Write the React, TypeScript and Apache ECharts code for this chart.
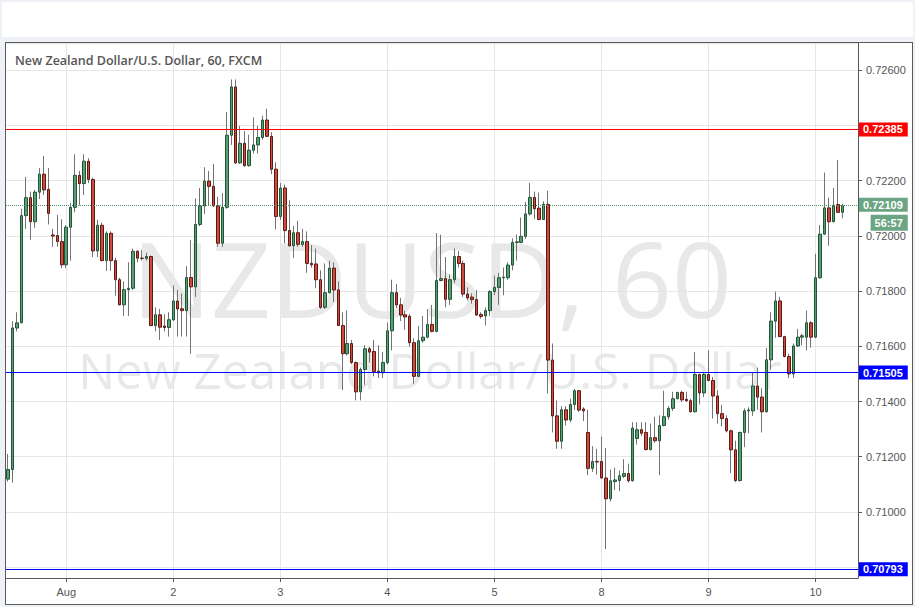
import React, { useEffect, useRef } from "react";
import * as echarts from "echarts";

// Hourly NZD/USD candles (FXCM, 60 min)
const opens = [
  0.71119, 0.71154, 0.71666, 0.71685, 0.72073, 0.72138, 0.72051, 0.72158, 0.72223, 0.72168,
  0.72003, 0.72001, 0.71979, 0.71895, 0.72031, 0.72103, 0.72219, 0.72189, 0.72270, 0.72204,
  0.71945, 0.72038, 0.71910, 0.72009, 0.71910, 0.71841, 0.71750, 0.71805, 0.71810, 0.71944,
  0.71919, 0.71918, 0.71925, 0.71675, 0.71714, 0.71673, 0.71668, 0.71696, 0.71764, 0.71736,
  0.71729, 0.71849, 0.71815, 0.72041, 0.72108, 0.72198, 0.72179, 0.72108, 0.71973, 0.72103,
  0.72364, 0.72539, 0.72264, 0.72335, 0.72254, 0.72310, 0.72329, 0.72356, 0.72419, 0.72360,
  0.72241, 0.72070, 0.72173, 0.72019, 0.71964, 0.72011, 0.71969, 0.71979, 0.71900, 0.71898,
  0.71841, 0.71741, 0.71794, 0.71883, 0.71804, 0.71675, 0.71573, 0.71610, 0.71541, 0.71435,
  0.71516, 0.71591, 0.71581, 0.71510, 0.71504, 0.71541, 0.71656, 0.71794, 0.71750, 0.71714,
  0.71709, 0.71613, 0.71491, 0.71620, 0.71633, 0.71679, 0.71654, 0.71838, 0.71845, 0.71770,
  0.71841, 0.71925, 0.71900, 0.71789, 0.71778, 0.71769, 0.71715, 0.71710, 0.71729, 0.71798,
  0.71813, 0.71848, 0.71848, 0.71894, 0.71976, 0.71976, 0.71998, 0.72079, 0.72139, 0.72100,
  0.72059, 0.72114, 0.71550, 0.71348, 0.71256, 0.71370, 0.71333, 0.71389, 0.71439, 0.71373,
  0.71288, 0.71158, 0.71183, 0.71183, 0.71123, 0.71048, 0.71110, 0.71114, 0.71129, 0.71139,
  0.71113, 0.71266, 0.71298, 0.71288, 0.71226, 0.71269, 0.71258, 0.71313, 0.71345, 0.71375,
  0.71410, 0.71433, 0.71408, 0.71403, 0.71363, 0.71498, 0.71431, 0.71498, 0.71476, 0.71420,
  0.71356, 0.71338, 0.71294, 0.71225, 0.71114, 0.71288, 0.71366, 0.71366, 0.71456, 0.71416,
  0.71363, 0.71551, 0.71691, 0.71764, 0.71635, 0.71563, 0.71500, 0.71601, 0.71633, 0.71633,
  0.71685, 0.71633, 0.71848, 0.72006, 0.72101, 0.72051, 0.72113, 0.72085,
];
const closes = [
  0.71154, 0.71666, 0.71685, 0.72073, 0.72138, 0.72051, 0.72158, 0.72223, 0.72166, 0.72081,
  0.71999, 0.71979, 0.71895, 0.72031, 0.72103, 0.72219, 0.72189, 0.72270, 0.72204, 0.71945,
  0.72038, 0.71910, 0.72009, 0.71910, 0.71841, 0.71750, 0.71805, 0.71810, 0.71944, 0.71919,
  0.71918, 0.71925, 0.71675, 0.71714, 0.71669, 0.71668, 0.71696, 0.71764, 0.71735, 0.71729,
  0.71849, 0.71815, 0.72041, 0.72108, 0.72198, 0.72179, 0.72108, 0.71973, 0.72103, 0.72364,
  0.72539, 0.72264, 0.72335, 0.72254, 0.72310, 0.72329, 0.72356, 0.72419, 0.72360, 0.72241,
  0.72070, 0.72173, 0.72019, 0.71964, 0.72011, 0.71969, 0.71979, 0.71900, 0.71895, 0.71841,
  0.71741, 0.71794, 0.71883, 0.71804, 0.71675, 0.71573, 0.71610, 0.71541, 0.71435, 0.71516,
  0.71591, 0.71579, 0.71508, 0.71504, 0.71541, 0.71656, 0.71794, 0.71750, 0.71713, 0.71706,
  0.71613, 0.71491, 0.71620, 0.71633, 0.71679, 0.71654, 0.71838, 0.71845, 0.71770, 0.71841,
  0.71925, 0.71900, 0.71789, 0.71775, 0.71769, 0.71713, 0.71708, 0.71729, 0.71798, 0.71813,
  0.71848, 0.71850, 0.71894, 0.71976, 0.71978, 0.71998, 0.72079, 0.72139, 0.72098, 0.72059,
  0.72114, 0.71550, 0.71348, 0.71256, 0.71370, 0.71333, 0.71389, 0.71439, 0.71369, 0.71366,
  0.71158, 0.71183, 0.71181, 0.71123, 0.71048, 0.71113, 0.71116, 0.71131, 0.71139, 0.71113,
  0.71304, 0.71298, 0.71285, 0.71226, 0.71269, 0.71258, 0.71313, 0.71345, 0.71375, 0.71410,
  0.71433, 0.71406, 0.71403, 0.71363, 0.71498, 0.71431, 0.71498, 0.71476, 0.71420, 0.71356,
  0.71338, 0.71294, 0.71225, 0.71114, 0.71288, 0.71366, 0.71369, 0.71456, 0.71416, 0.71363,
  0.71551, 0.71691, 0.71764, 0.71635, 0.71563, 0.71500, 0.71601, 0.71633, 0.71638, 0.71685,
  0.71633, 0.71848, 0.72006, 0.72101, 0.72051, 0.72110, 0.72085, 0.72109,
];
const lows = [
  0.71110, 0.71106, 0.71654, 0.71683, 0.72025, 0.71985, 0.72029, 0.72133, 0.72148, 0.72041,
  0.71960, 0.71960, 0.71883, 0.71883, 0.71910, 0.72085, 0.72110, 0.72148, 0.72191, 0.71923,
  0.71923, 0.71908, 0.71873, 0.71873, 0.71783, 0.71748, 0.71710, 0.71710, 0.71804, 0.71904,
  0.71910, 0.71910, 0.71673, 0.71654, 0.71623, 0.71654, 0.71635, 0.71691, 0.71635, 0.71635,
  0.71635, 0.71573, 0.71779, 0.72035, 0.72079, 0.72108, 0.72104, 0.71960, 0.71960, 0.72098,
  0.72329, 0.72260, 0.72260, 0.72250, 0.72250, 0.72298, 0.72298, 0.72348, 0.72358, 0.72223,
  0.72023, 0.72058, 0.71973, 0.71960, 0.71920, 0.71960, 0.71960, 0.71866, 0.71885, 0.71810,
  0.71735, 0.71735, 0.71791, 0.71760, 0.71673, 0.71441, 0.71566, 0.71535, 0.71404, 0.71404,
  0.71460, 0.71541, 0.71491, 0.71485, 0.71485, 0.71535, 0.71585, 0.71738, 0.71691, 0.71660,
  0.71598, 0.71464, 0.71488, 0.71613, 0.71629, 0.71650, 0.71650, 0.71835, 0.71741, 0.71750,
  0.71829, 0.71885, 0.71779, 0.71766, 0.71754, 0.71710, 0.71700, 0.71675, 0.71710, 0.71785,
  0.71750, 0.71785, 0.71841, 0.71875, 0.71910, 0.71973, 0.71988, 0.72073, 0.72060, 0.72056,
  0.72058, 0.71429, 0.71288, 0.71229, 0.71229, 0.71313, 0.71325, 0.71369, 0.71363, 0.71329,
  0.71133, 0.71145, 0.71135, 0.71120, 0.70866, 0.71038, 0.71079, 0.71075, 0.71123, 0.71106,
  0.71110, 0.71244, 0.71275, 0.71223, 0.71223, 0.71250, 0.71133, 0.71310, 0.71335, 0.71366,
  0.71408, 0.71398, 0.71398, 0.71360, 0.71360, 0.71389, 0.71416, 0.71473, 0.71338, 0.71320,
  0.71310, 0.71288, 0.71141, 0.71108, 0.71110, 0.71235, 0.71285, 0.71348, 0.71370, 0.71288,
  0.71360, 0.71516, 0.71631, 0.71633, 0.71560, 0.71485, 0.71485, 0.71598, 0.71604, 0.71585,
  0.71595, 0.71629, 0.71845, 0.72004, 0.71964, 0.72049, 0.72083, 0.72063,
];
const highs = [
  0.71210, 0.71691, 0.71723, 0.72098, 0.72213, 0.72160, 0.72166, 0.72245, 0.72289, 0.72245,
  0.72025, 0.72075, 0.72060, 0.72039, 0.72119, 0.72295, 0.72235, 0.72295, 0.72281, 0.72210,
  0.72058, 0.72048, 0.72016, 0.72016, 0.71920, 0.71848, 0.71835, 0.71904, 0.71954, 0.71948,
  0.71948, 0.71939, 0.71929, 0.71741, 0.71735, 0.71716, 0.71723, 0.71820, 0.71804, 0.71791,
  0.71890, 0.71985, 0.72135, 0.72173, 0.72248, 0.72235, 0.72260, 0.72141, 0.72154, 0.72448,
  0.72566, 0.72566, 0.72398, 0.72379, 0.72366, 0.72429, 0.72398, 0.72435, 0.72460, 0.72375,
  0.72266, 0.72191, 0.72185, 0.72129, 0.72035, 0.72054, 0.72025, 0.72016, 0.71966, 0.71954,
  0.71875, 0.71900, 0.71910, 0.71904, 0.71835, 0.71723, 0.71729, 0.71623, 0.71545, 0.71523,
  0.71604, 0.71598, 0.71623, 0.71604, 0.71579, 0.71685, 0.71841, 0.71825, 0.71775, 0.71729,
  0.71716, 0.71629, 0.71673, 0.71710, 0.71735, 0.71750, 0.72010, 0.72004, 0.71923, 0.71860,
  0.71954, 0.71945, 0.71910, 0.71813, 0.71791, 0.71804, 0.71723, 0.71741, 0.71804, 0.71856,
  0.71866, 0.71885, 0.71904, 0.71991, 0.72004, 0.72066, 0.72123, 0.72191, 0.72160, 0.72156,
  0.72125, 0.72163, 0.71610, 0.71404, 0.71383, 0.71383, 0.71410, 0.71445, 0.71441, 0.71379,
  0.71370, 0.71238, 0.71229, 0.71273, 0.71231, 0.71154, 0.71160, 0.71150, 0.71191, 0.71175,
  0.71325, 0.71325, 0.71325, 0.71325, 0.71320, 0.71345, 0.71350, 0.71439, 0.71383, 0.71435,
  0.71435, 0.71439, 0.71435, 0.71410, 0.71579, 0.71500, 0.71504, 0.71585, 0.71489, 0.71441,
  0.71388, 0.71350, 0.71298, 0.71258, 0.71291, 0.71375, 0.71379, 0.71504, 0.71523, 0.71448,
  0.71594, 0.71723, 0.71798, 0.71779, 0.71638, 0.71573, 0.71610, 0.71663, 0.71645, 0.71729,
  0.71691, 0.71935, 0.72039, 0.72229, 0.72138, 0.72173, 0.72275, 0.72116,
];

// Empty hourly slots kept on the right of the last candle
const rightPadSlots = 3;
// Day ticks on the time axis (index of the first hour of each day)
const dayTickIndex = [13, 37, 61, 85, 109, 133, 157, 181];
const dayTickLabels = ["Aug", "2", "3", "4", "5", "8", "9", "10"];

// Horizontal levels
const resistanceLevel = 0.72385;
const supportLevel = 0.71505;
const lowerLevel = 0.70793;
const lastPrice = 0.72109;
const countdown = "56:57";

const yMin = 0.70761;
const yMax = 0.72698;
const hiddenTicks = [0.724, 0.708];

const titleText = "New Zealand Dollar/U.S. Dollar, 60, FXCM";
const watermarkSymbol = "NZDUSD, 60";
const watermarkName = "New Zealand Dollar/U.S. Dollar";

const UP = "#5a9f74";
const DOWN = "#cf4a3a";
const UP_BORDER = "#225437";
const DOWN_BORDER = "#5b1a13";
const WICK = "#737375";
const LAST_GREEN = "#6ba583";

export default function App() {
  const ref = useRef<HTMLDivElement>(null);

  useEffect(() => {
    const chart = echarts.init(ref.current!, null, { renderer: "svg" });
    const n = opens.length;
    const categories = Array.from({ length: n + rightPadSlots }, (_, i) => String(i));
    const full = opens.map((o, i) => [o, closes[i], lows[i], highs[i]]);
    const bodies = opens.map((o, i) => [
      o,
      closes[i],
      Math.min(o, closes[i]),
      Math.max(o, closes[i]),
    ]);
    const isDay = (idx: number) => dayTickIndex.indexOf(idx) >= 0;
    const axisFont = "'Liberation Sans', Arial, sans-serif";

    const boxLabel = (bg: string) => ({
      show: true,
      position: "end",
      distance: 1,
      color: "#ffffff",
      fontWeight: "bold",
      fontSize: 11,
      fontFamily: axisFont,
      backgroundColor: bg,
      padding: [2, 5, 1, 4],
      formatter: (p: any) => Number(p.value).toFixed(5),
    });

    chart.setOption({
      animation: false,
      grid: { left: 6, right: 57, top: 43, bottom: 29, containLabel: false },
      graphic: [
        {
          type: "text",
          z: -1,
          silent: true,
          style: {
            x: 432,
            y: 277,
            text: watermarkSymbol,
            align: "center",
            verticalAlign: "middle",
            fontSize: 105,
            lineHeight: 78,
            fontFamily: "'Open Sans', sans-serif",
            fill: "#e8e8e8",
          },
        },
        {
          type: "text",
          z: -1,
          silent: true,
          style: {
            x: 430,
            y: 370,
            text: watermarkName,
            align: "center",
            verticalAlign: "middle",
            fontSize: 49,
            lineHeight: 40,
            fontFamily: "'Open Sans', sans-serif",
            fill: "#e8e8e8",
          },
        },
        {
          type: "text",
          z: 10,
          silent: true,
          style: {
            x: 15,
            y: 60,
            text: titleText,
            align: "left",
            verticalAlign: "middle",
            fontSize: 12.5,
            fontWeight: 600,
            fontFamily: "'Open Sans', sans-serif",
            fill: "#555555",
          },
        },
      ],
      xAxis: {
        type: "category",
        data: categories,
        boundaryGap: true,
        axisLine: { lineStyle: { color: "#555555", width: 1 } },
        axisTick: {
          show: true,
          interval: (idx: number) => isDay(idx),
          alignWithLabel: true,
          length: 4,
          lineStyle: { color: "#555555" },
        },
        axisLabel: {
          interval: (idx: number) => isDay(idx),
          formatter: (_v: string, idx: number) => {
            const k = dayTickIndex.indexOf(idx);
            return k >= 0 ? dayTickLabels[k] : "";
          },
          color: "#555555",
          fontSize: 11,
          fontFamily: axisFont,
          margin: 8,
        },
        splitLine: {
          show: true,
          interval: (idx: number) => isDay(idx),
          alignWithLabel: true,
          lineStyle: { color: "#e6e6e6", width: 1 },
        },
      },
      yAxis: {
        type: "value",
        position: "right",
        scale: true,
        min: yMin,
        max: yMax,
        splitNumber: 10,
        minInterval: 0.002,
        maxInterval: 0.002,
        axisLine: { show: true, lineStyle: { color: "#555555", width: 1 } },
        axisTick: { show: true, length: 4, lineStyle: { color: "#555555" } },
        axisLabel: {
          showMinLabel: false,
          showMaxLabel: false,
          color: "#555555",
          fontSize: 11,
          fontFamily: axisFont,
          margin: 8,
          formatter: (v: number) =>
            hiddenTicks.some((h) => Math.abs(h - v) < 1e-7) ? "" : v.toFixed(5),
        },
        splitLine: { show: true, lineStyle: { color: "#e6e6e6", width: 1 } },
      },
      series: [
        {
          name: "wicks",
          type: "candlestick",
          data: full,
          barWidth: 1,
          z: 3,
          itemStyle: {
            color: WICK,
            color0: WICK,
            borderColor: WICK,
            borderColor0: WICK,
            borderWidth: 1,
          },
        },
        {
          name: "bodies",
          type: "candlestick",
          data: bodies,
          barWidth: 3,
          z: 4,
          clip: false,
          itemStyle: {
            color: UP,
            color0: DOWN,
            borderColor: UP_BORDER,
            borderColor0: DOWN_BORDER,
            borderWidth: 1,
          },
          markLine: {
            symbol: "none",
            silent: true,
            animation: false,
            precision: 5,
            data: [
              {
                yAxis: resistanceLevel,
                lineStyle: { color: "#ff0000", type: "solid", width: 1 },
                label: boxLabel("#ff0000"),
              },
              {
                yAxis: supportLevel,
                lineStyle: { color: "#0000ff", type: "solid", width: 1 },
                label: boxLabel("#0000ff"),
              },
              {
                yAxis: lowerLevel,
                lineStyle: { color: "#0000ff", type: "solid", width: 1 },
                label: boxLabel("#0000ff"),
              },
              {
                yAxis: lastPrice,
                lineStyle: { color: "#4e8a64", type: "dotted", width: 1 },
                label: {
                  show: true,
                  position: "end",
                  distance: 1,
                  backgroundColor: "transparent",
                  padding: 0,
                  formatter: (p: any) =>
                    `{e|}\n{a|${Number(p.value).toFixed(5)}}\n{b|${countdown}}`,
                  rich: {
                    e: { height: 17, lineHeight: 17 },
                    a: {
                      color: "#ffffff",
                      fontWeight: "bold",
                      fontSize: 11,
                      fontFamily: axisFont,
                      backgroundColor: LAST_GREEN,
                      padding: [2, 5, 1, 4],
                      lineHeight: 17,
                    },
                    b: {
                      color: "#ffffff",
                      fontWeight: "bold",
                      fontSize: 11,
                      fontFamily: axisFont,
                      backgroundColor: LAST_GREEN,
                      padding: [3, 5, 2, 4],
                      align: "right",
                      lineHeight: 19,
                    },
                  },
                },
              },
            ],
          },
        },
      ],
    });

    return () => chart.dispose();
  }, []);

  return (
    <div
      style={{
        position: "fixed",
        left: 0,
        top: 0,
        width: 915,
        height: 607,
        background: "#eef1f5",
        overflow: "hidden",
      }}
    >
      <div
        style={{
          position: "absolute",
          left: 2,
          top: 2,
          width: 911,
          height: 35,
          background: "#ffffff",
        }}
      />
      <div
        style={{
          position: "absolute",
          left: 5,
          top: 42,
          width: 908,
          height: 563,
          background: "#ffffff",
          border: "1px solid #5b5b5b",
          boxSizing: "border-box",
        }}
      />
      <div
        ref={ref}
        style={{ position: "absolute", left: 0, top: 0, width: 915, height: 607 }}
      />
    </div>
  );
}
